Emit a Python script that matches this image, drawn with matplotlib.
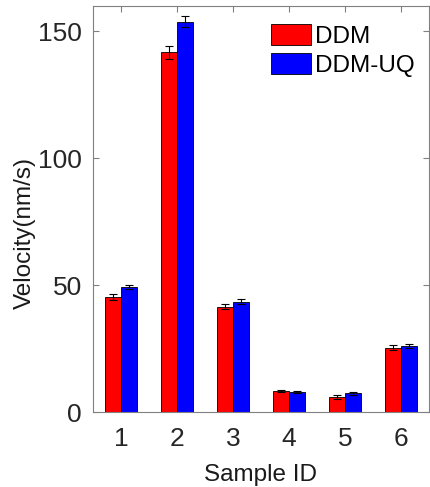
import numpy as np
import matplotlib.pyplot as plt

plt.rcParams['font.family'] = ['Liberation Sans', 'DejaVu Sans']

# data
sample_ids = ['1', '2', '3', '4', '5', '6']
ddm = [45.4, 141.8, 41.4, 8.4, 6.0, 25.4]
ddm_err = [1.1, 2.6, 1.0, 0.4, 0.7, 0.9]
ddm_uq = [49.4, 153.8, 43.4, 7.9, 7.3, 25.9]
ddm_uq_err = [0.8, 2.2, 1.0, 0.4, 0.6, 0.8]

fig = plt.figure(figsize=(4.30, 4.87), dpi=100)
ax = fig.add_axes([93 / 430, 75 / 487, 336 / 430, 406 / 487])

x = np.arange(1, len(sample_ids) + 1)
w = 0.285
ax.bar(x - w / 2, ddm, w, color='#ff0000', edgecolor='black', linewidth=0.6,
       label='DDM', zorder=2)
ax.bar(x + w / 2, ddm_uq, w, color='#0000ff', edgecolor='black', linewidth=0.6,
       label='DDM-UQ', zorder=2)
ax.errorbar(x - w / 2, ddm, yerr=ddm_err, fmt='none', ecolor='black',
            elinewidth=0.8, capsize=3, capthick=0.8, zorder=3)
ax.errorbar(x + w / 2, ddm_uq, yerr=ddm_uq_err, fmt='none', ecolor='black',
            elinewidth=0.8, capsize=3, capthick=0.8, zorder=3)

ax.set_xlim(0.5, 6.5)
ax.set_ylim(0, 160)
ax.set_xticks(x)
ax.set_xticklabels(sample_ids)
ax.set_yticks([0, 50, 100, 150])
ax.tick_params(direction='in', top=True, right=True, labelsize=19,
               colors='0.5', labelcolor='0.15', length=4)
ax.tick_params(axis='x', pad=11)
ax.tick_params(axis='y', pad=8)
for s in ax.spines.values():
    s.set_color('0.5')
    s.set_linewidth(0.8)

ax.set_xlabel('Sample ID', fontsize=17.5, color='0.1', labelpad=9)
ax.set_ylabel('Velocity(nm/s)', fontsize=17.5, color='0.1', labelpad=3)
ax.yaxis.set_label_coords(-0.17, 0.44)

ax.legend(loc='upper right', frameon=False, fontsize=17.5, handlelength=1.65,
          handleheight=0.95, handletextpad=0.15, labelspacing=0.2,
          bbox_to_anchor=(1.007, 0.997), borderaxespad=0.3)

fig.savefig('out.png', dpi=100)
